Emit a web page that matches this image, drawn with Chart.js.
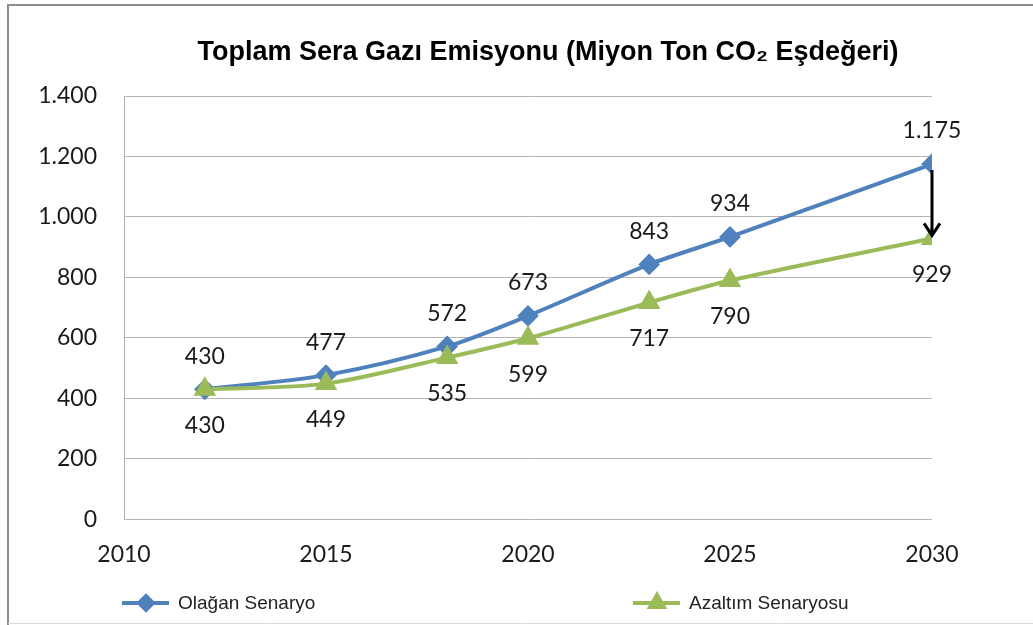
<!DOCTYPE html>
<html>
<head>
<meta charset="utf-8">
<script src="https://cdn.jsdelivr.net/npm/chart.js@4.4.1/dist/chart.umd.min.js"></script>
<style>
    html, body { margin: 0; padding: 0; background: #fff; }
    #wrap { width: 1033px; height: 625px; position: relative; }
</style>
</head>
<body>
<div id="wrap"><canvas id="chart"></canvas></div>
<script>
const years = [2012, 2015, 2018, 2020, 2023, 2025, 2030];
const olaganValues = [430, 477, 572, 673, 843, 934, 1175];
const azaltimValues = [430, 449, 535, 599, 717, 790, 929];
const xTicks = [2010, 2015, 2020, 2025, 2030];
const yTicks = [0, 200, 400, 600, 800, 1000, 1200, 1400];

const chartTitle = 'Toplam Sera Gazı Emisyonu (Miyon Ton CO₂ Eşdeğeri)';
const seriesNames = ['Olağan Senaryo', 'Azaltım Senaryosu'];
const blue = '#4f81bd';
const green = '#9bbb59';
const numFont = 'Lato, "Open Sans", sans-serif';
const textFont = '"Liberation Sans", Arial, sans-serif';

// Turkish thousands separator: 1175 -> 1.175
function fmt(v) {
    return String(v).replace(/\B(?=(\d{3})+(?!\d))/g, '.');
}

function toPoints(values) {
    return years.map((y, i) => ({x: y, y: values[i]}));
}

// frame around the picture + title
const framePlugin = {
    id: 'frame',
    beforeDraw(chart) {
        const ctx = chart.ctx;
        ctx.save();
        ctx.fillStyle = '#fff';
        ctx.fillRect(0, 0, chart.width, chart.height);
        ctx.strokeStyle = '#8c8c8c';
        ctx.lineWidth = 2;
        ctx.beginPath();
        ctx.moveTo(8, chart.height);
        ctx.lineTo(8, 5);
        ctx.lineTo(chart.width, 5);
        ctx.stroke();
        ctx.strokeStyle = '#d8d8d8';
        ctx.lineWidth = 1;
        ctx.beginPath();
        ctx.moveTo(8, chart.height - 1.5);
        ctx.lineTo(chart.width, chart.height - 1.5);
        ctx.stroke();

        ctx.fillStyle = '#000';
        ctx.font = 'bold 27px ' + textFont;
        ctx.textAlign = 'center';
        ctx.textBaseline = 'middle';
        ctx.fillText(chartTitle, 548, 53);
        ctx.restore();
    }
};

// value labels, the arrow at 2030 and the legend row
const labelsPlugin = {
    id: 'valueLabels',
    afterDatasetsDraw(chart) {
        const ctx = chart.ctx;
        const xs = chart.scales.x, ys = chart.scales.y;
        ctx.save();

        // arrow from Olağan to Azaltım at the last year
        const last = years.length - 1;
        const ax = xs.getPixelForValue(years[last]);
        const y1 = ys.getPixelForValue(olaganValues[last]) + 6;
        const y2 = ys.getPixelForValue(azaltimValues[last]) - 3;
        ctx.strokeStyle = '#000';
        ctx.lineWidth = 3;
        ctx.beginPath();
        ctx.moveTo(ax, y1);
        ctx.lineTo(ax, y2);
        ctx.moveTo(ax - 8, y2 - 12);
        ctx.lineTo(ax, y2);
        ctx.lineTo(ax + 8, y2 - 12);
        ctx.stroke();

        ctx.font = '23px ' + numFont;
        ctx.fillStyle = '#1a1a1a';
        ctx.textAlign = 'center';
        ctx.textBaseline = 'middle';
        chart.data.datasets.forEach((ds, di) => {
            const meta = chart.getDatasetMeta(di);
            meta.data.forEach((pt, i) => {
                const off = ds.labelSide === 'above' ? -33 : 36;
                ctx.fillText(fmt(ds.data[i].y), pt.x, pt.y + off);
            });
        });
        ctx.restore();
    },
    afterDraw(chart) {
        const ctx = chart.ctx;
        const items = [
            {x: 122, ds: chart.data.datasets[1]},
            {x: 633, ds: chart.data.datasets[0]}
        ];
        const ly = 603;
        ctx.save();
        items.forEach(it => {
            ctx.strokeStyle = it.ds.borderColor;
            ctx.lineWidth = 4;
            ctx.beginPath();
            ctx.moveTo(it.x, ly);
            ctx.lineTo(it.x + 47, ly);
            ctx.stroke();
            Chart.helpers.drawPoint(ctx, {
                pointStyle: it.ds.pointStyle,
                radius: it.ds.pointStyle === 'triangle' ? 8 : 7,
                borderWidth: 1
            }, it.x + 24, ly);
            ctx.fillStyle = it.ds.backgroundColor;
            ctx.fill();
            ctx.fillStyle = '#222';
            ctx.font = '19px ' + textFont;
            ctx.textAlign = 'left';
            ctx.textBaseline = 'middle';
            ctx.fillText(it.ds.label, it.x + 56, ly + 1);
        });
        ctx.restore();
    }
};

new Chart(document.getElementById('chart'), {
    type: 'line',
    data: {
        datasets: [
            {
                label: seriesNames[1],
                data: toPoints(azaltimValues),
                borderColor: green,
                backgroundColor: green,
                pointBackgroundColor: green,
                pointBorderColor: green,
                pointStyle: 'triangle',
                pointRadius: 9,
                borderWidth: 4,
                tension: 0.3,
                labelSide: 'below',
                order: 1
            },
            {
                label: seriesNames[0],
                data: toPoints(olaganValues),
                borderColor: blue,
                backgroundColor: blue,
                pointBackgroundColor: blue,
                pointBorderColor: blue,
                pointStyle: 'rectRot',
                pointRadius: 8,
                borderWidth: 4,
                tension: 0.3,
                labelSide: 'above',
                order: 2
            }
        ]
    },
    options: {
        responsive: true,
        maintainAspectRatio: false,
        animation: false,
        layout: {
            padding: {left: 0, right: 101, top: 96, bottom: 36}
        },
        plugins: {
            legend: {display: false},
            tooltip: {enabled: false},
            title: {display: false}
        },
        scales: {
            x: {
                type: 'linear',
                min: 2010,
                max: 2030,
                afterBuildTicks: (scale) => {
                    scale.ticks = xTicks.map(v => ({value: v}));
                },
                grid: {display: false, drawTicks: false},
                border: {display: false},
                ticks: {
                    color: '#1a1a1a',
                    font: {family: numFont, size: 23},
                    padding: 21,
                    maxRotation: 0,
                    callback: (v) => String(v)
                }
            },
            y: {
                min: 0,
                max: 1400,
                afterBuildTicks: (scale) => {
                    scale.ticks = yTicks.map(v => ({value: v}));
                },
                afterFit: (scale) => {
                    scale.width = 124;
                },
                grid: {color: '#b4b4b4', lineWidth: 1, drawTicks: false},
                border: {display: true, color: '#b4b4b4'},
                ticks: {
                    color: '#1a1a1a',
                    font: {family: numFont, size: 23},
                    padding: 27,
                    callback: (v) => fmt(v)
                }
            }
        }
    },
    plugins: [framePlugin, labelsPlugin]
});
</script>
</body>
</html>
